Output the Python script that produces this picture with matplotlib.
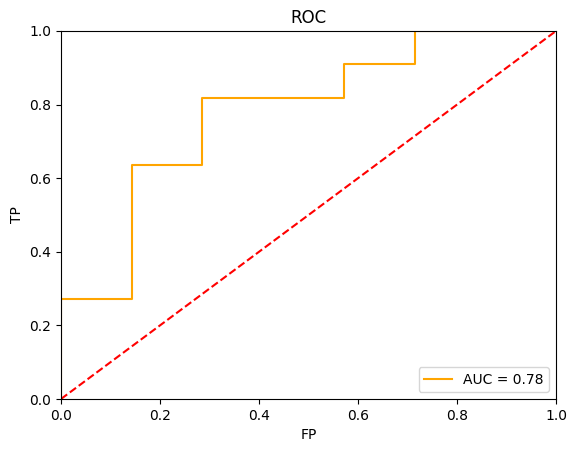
import matplotlib
matplotlib.use("Agg")
import matplotlib.pyplot as plt

# ROC curve points (FP in sevenths, TP in elevenths)
fpr = [0.0, 0.0, 1/7, 1/7, 2/7, 2/7, 4/7, 4/7, 5/7, 5/7, 1.0]
tpr = [0.0, 3/11, 3/11, 7/11, 7/11, 9/11, 9/11, 10/11, 10/11, 1.0, 1.0]
auc_value = 0.78

fig = plt.figure(figsize=(5.78, 4.53), dpi=100)
ax = fig.add_axes([0.1055, 0.1192, 0.8565, 0.8124])

ax.plot(fpr, tpr, color='orange', label='AUC = %0.2f' % auc_value)
ax.plot([0, 1], [0, 1], 'r--')
ax.set_xlim(0, 1)
ax.set_ylim(0, 1)
ax.set_title('ROC')
ax.set_xlabel('FP')
ax.set_ylabel('TP')
ax.legend(loc='lower right')

fig.savefig('out.png', dpi=100)
